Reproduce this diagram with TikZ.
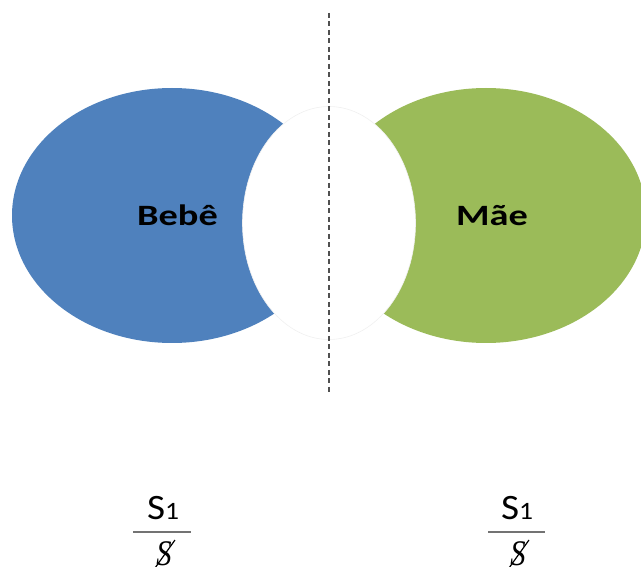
\documentclass[tikz,border=0pt]{standalone}
\usepackage{fontspec}
\setmainfont{Carlito}
\newfontfamily\serifit{Liberation Serif}
\definecolor{babyblue}{HTML}{4F81BD}
\definecolor{mothergreen}{HTML}{9BBB59}
\definecolor{divider}{HTML}{505050}
\begin{document}
\begin{tikzpicture}[x=1pt,y=-1pt,
  label text/.style={inner sep=0pt, font=\fontsize{29.5}{30}\selectfont\bfseries, xscale=1.3, text=black},
  matheme/.style={inner sep=0pt, font=\fontsize{35.7}{36}\selectfont, xscale=1.1, text=black},
  barred/.style={inner sep=0pt, font=\fontsize{36}{36}\serifit\itshape, xscale=0.85, text=black},
  fraction bar/.style={draw=divider!80, line width=1.3pt},
  divider line/.style={draw=divider, line width=1.8pt, dash pattern=on 5pt off 3.5pt}]
\useasboundingbox (0,0) rectangle (641,567);
% the two lobes
\fill[babyblue] (172,215.5) ellipse [x radius=160pt, y radius=127.5pt];
\fill[mothergreen] (486,215.5) ellipse [x radius=160pt, y radius=127.5pt];
% the space between them
\filldraw[fill=white, draw=black!6, line width=0.6pt] (329,223) ellipse [x radius=86.5pt, y radius=116.5pt];
% vertical divider
\coordinate (divtop) at (329,13);
\coordinate (divbot) at (329,393);
\draw[divider line] (divtop) -- (divbot);
% labels
\node[label text, anchor=base] (bebe) at (177.5,226) {Bebê};
\node[label text, anchor=base] (mae) at (492,226) {Mãe};
% S1 over barred S, left
\node[matheme, anchor=base] (numL) at (163,519) {S\fontsize{25}{25}\selectfont 1};
\coordinate (barLa) at (133,532);
\coordinate (barLb) at (191,532);
\draw[fraction bar] (barLa) -- (barLb);
\node[barred, anchor=base] (denL) at (164,565) {S};
\coordinate (slLa) at (155,568);
\coordinate (slLb) at (175,540);
\draw[line width=1.2pt] (slLa) -- (slLb);
% S1 over barred S, right
\node[matheme, anchor=base] (numR) at (517,519) {S\fontsize{25}{25}\selectfont 1};
\coordinate (barRa) at (488,532);
\coordinate (barRb) at (545,532);
\draw[fraction bar] (barRa) -- (barRb);
\node[barred, anchor=base] (denR) at (518,565) {S};
\coordinate (slRa) at (509,568);
\coordinate (slRb) at (529,540);
\draw[line width=1.2pt] (slRa) -- (slRb);
\end{tikzpicture}
\end{document}
